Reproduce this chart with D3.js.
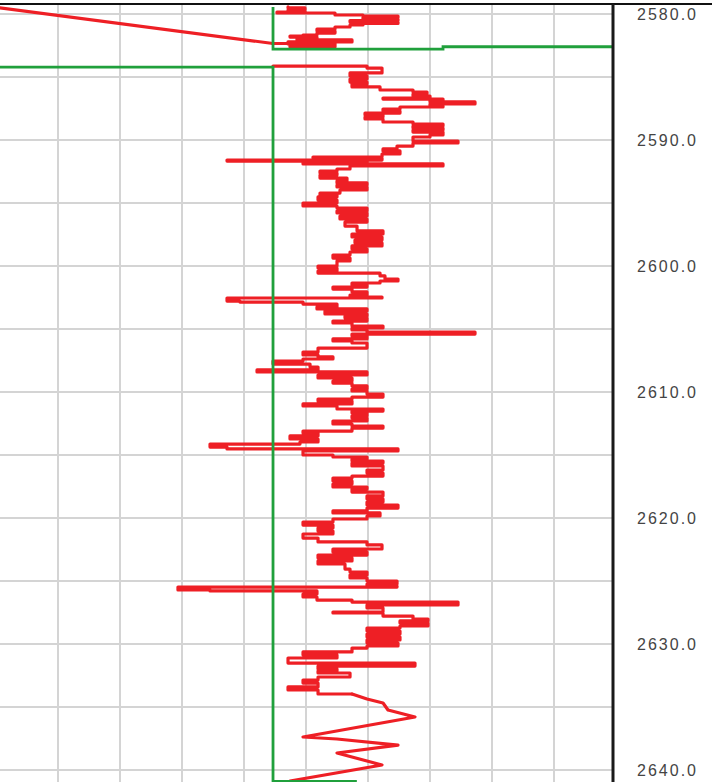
<!DOCTYPE html>
<html>
<head>
<meta charset="utf-8">
<script src="https://cdn.jsdelivr.net/npm/d3@7"></script>
<style>
  html, body { margin: 0; padding: 0; background: #ffffff; }
  svg { display: block; }
</style>
</head>
<body>
<svg id="chart" width="712" height="782"></svg>
<script>
// ---- data (log value, depth in m) ----
const depthLabels = [2580, 2590, 2600, 2610, 2620, 2630, 2640];

// off-scale diagonal trace at the very top
const redDiagonal = [[-10.6, 2578.8], [44.68, 2582.34]];

// first short red interval above the gap
const redTop = [
  [47.10, 2579.44], [49.84, 2579.52], [47.10, 2579.68], [49.84, 2579.76], [45.32, 2579.84],
  [54.68, 2579.92], [59.19, 2580.08], [64.84, 2580.16], [59.19, 2580.28], [64.84, 2580.40],
  [57.10, 2580.52], [64.84, 2580.63], [59.19, 2580.75], [57.10, 2580.87], [54.68, 2581.03],
  [51.77, 2581.19], [54.68, 2581.35], [51.77, 2581.51], [49.52, 2581.67], [47.42, 2581.75],
  [51.77, 2581.83], [48.55, 2581.98], [57.42, 2582.06], [47.10, 2582.22], [54.35, 2582.38],
  [47.42, 2582.46], [54.68, 2582.62], [44.68, 2582.34]
];

// main red log below the gap (sampled, drawn as steps)
const redMain = [
  [44.68, 2584.13], [59.84, 2584.13], [62.26, 2584.29], [62.26, 2584.60], [57.10, 2584.68],
  [59.84, 2584.92], [57.10, 2585.16], [59.84, 2585.40], [57.42, 2585.56], [61.94, 2585.79],
  [67.26, 2586.03], [69.52, 2586.19], [67.26, 2586.35], [70.00, 2586.51], [62.42, 2586.67],
  [72.10, 2586.75], [70.00, 2586.90], [77.26, 2586.98], [70.00, 2587.14], [72.10, 2587.30],
  [65.16, 2587.38], [62.42, 2587.54], [65.16, 2587.70], [59.52, 2587.86], [62.42, 2588.02],
  [59.52, 2588.17], [62.42, 2588.33], [67.26, 2588.57], [72.10, 2588.73], [67.26, 2588.89],
  [72.10, 2589.05], [67.26, 2589.21], [72.10, 2589.37], [70.00, 2589.60], [67.26, 2589.76],
  [74.52, 2590.08], [67.26, 2590.24], [64.68, 2590.48], [62.42, 2590.71], [65.16, 2590.87],
  [62.26, 2591.11], [51.13, 2591.35], [62.26, 2591.43], [37.26, 2591.59], [59.84, 2591.67],
  [49.52, 2591.83], [72.10, 2591.90], [57.10, 2592.06], [55.00, 2592.30], [52.26, 2592.46],
  [55.00, 2592.62], [52.26, 2592.78], [56.61, 2593.02], [55.00, 2593.25], [59.84, 2593.41],
  [55.00, 2593.57], [59.84, 2593.73], [55.48, 2593.97], [52.26, 2594.21], [55.00, 2594.37],
  [51.94, 2594.52], [55.00, 2594.76], [49.52, 2595.00], [55.00, 2595.24], [59.84, 2595.40],
  [55.00, 2595.63], [59.84, 2595.79], [55.48, 2596.03], [59.84, 2596.27], [56.29, 2596.51],
  [58.23, 2596.83], [62.42, 2597.22], [57.42, 2597.46], [62.26, 2597.70], [57.90, 2597.94],
  [62.26, 2598.17], [57.42, 2598.41], [59.84, 2598.65], [57.10, 2598.89], [54.35, 2599.13],
  [57.10, 2599.37], [55.00, 2599.60], [51.94, 2600.00], [55.00, 2600.16], [51.94, 2600.40],
  [61.94, 2600.56], [62.74, 2600.79], [64.84, 2601.03], [61.94, 2601.19], [57.42, 2601.35],
  [59.84, 2601.51], [54.35, 2601.67], [57.42, 2601.83], [59.84, 2602.06], [57.10, 2602.30],
  [62.26, 2602.46], [37.26, 2602.54], [39.35, 2602.78], [49.52, 2602.86], [55.00, 2603.02],
  [51.77, 2603.25], [59.84, 2603.41], [53.06, 2603.57], [59.84, 2603.81], [56.29, 2603.97],
  [59.84, 2604.13], [54.35, 2604.37], [57.42, 2604.52], [62.42, 2604.76], [57.42, 2604.92],
  [59.84, 2605.08], [77.26, 2605.24], [57.42, 2605.40], [59.84, 2605.56], [54.35, 2605.79],
  [57.42, 2605.95], [59.84, 2606.11], [51.94, 2606.51], [49.52, 2606.83], [51.94, 2607.06],
  [54.35, 2607.22], [49.52, 2607.38], [44.68, 2607.54], [50.65, 2607.78], [51.94, 2608.02],
  [42.10, 2608.25], [59.84, 2608.41], [51.94, 2608.65], [57.42, 2608.89], [54.35, 2609.13],
  [57.42, 2609.29], [59.84, 2609.52], [57.42, 2609.76], [59.84, 2609.92], [62.42, 2610.16],
  [57.42, 2610.40], [51.94, 2610.56], [57.42, 2610.71], [49.52, 2610.95], [55.00, 2611.11],
  [62.42, 2611.35], [57.42, 2611.51], [59.84, 2611.67], [57.42, 2611.90], [59.84, 2612.06],
  [54.35, 2612.30], [57.42, 2612.54], [62.42, 2612.70], [57.42, 2612.86], [49.52, 2613.10],
  [51.94, 2613.25], [47.42, 2613.49], [51.94, 2613.73], [49.03, 2613.97], [34.52, 2614.13],
  [37.26, 2614.37], [64.84, 2614.52], [49.52, 2614.68], [54.35, 2615.00], [59.84, 2615.16],
  [57.42, 2615.32], [62.42, 2615.48], [57.42, 2615.63], [62.42, 2615.87], [59.84, 2616.19],
  [62.42, 2616.43], [57.42, 2616.67], [54.35, 2616.83], [57.42, 2617.06], [54.35, 2617.30],
  [59.84, 2617.54], [57.42, 2617.70], [62.42, 2617.94], [59.84, 2618.25], [62.42, 2618.49],
  [59.84, 2618.73], [64.84, 2618.97], [59.84, 2619.21], [54.35, 2619.44], [61.94, 2619.60],
  [59.84, 2619.84], [54.35, 2620.08], [49.52, 2620.32], [54.35, 2620.56], [51.94, 2620.79],
  [54.35, 2621.03], [49.52, 2621.27], [51.94, 2621.59], [59.84, 2621.90], [62.26, 2622.14],
  [54.35, 2622.46], [59.84, 2622.70], [51.94, 2622.94], [57.42, 2623.17], [51.94, 2623.41],
  [56.29, 2623.65], [57.10, 2624.05], [59.84, 2624.29], [57.10, 2624.52], [59.84, 2624.76],
  [64.68, 2625.00], [59.84, 2625.24], [64.68, 2625.40], [29.35, 2625.48], [34.52, 2625.71],
  [51.77, 2625.79], [49.52, 2626.03], [51.77, 2626.27], [57.42, 2626.51], [74.52, 2626.67],
  [59.84, 2626.90], [62.42, 2627.14], [54.35, 2627.46], [62.42, 2627.54], [67.26, 2627.78],
  [69.68, 2628.02], [65.16, 2628.17], [69.68, 2628.33], [65.16, 2628.57], [59.84, 2628.73],
  [65.16, 2628.97], [59.84, 2629.21], [65.16, 2629.44], [59.84, 2629.68], [64.84, 2629.92],
  [59.84, 2630.16], [57.42, 2630.32], [49.52, 2630.63], [55.00, 2630.87], [47.10, 2631.11],
  [67.58, 2631.51], [51.94, 2631.75], [55.00, 2631.98], [51.94, 2632.14], [57.10, 2632.30],
  [51.94, 2632.62], [49.52, 2632.86], [51.94, 2633.10], [47.10, 2633.41], [51.94, 2633.65],
  [57.42, 2633.97]
];

// bottom tail of the red log (sparse samples, straight joins)
const redTail = [
  [57.42, 2633.97], [59.84, 2634.37], [62.42, 2634.68], [63.23, 2635.24], [67.58, 2635.79],
  [49.52, 2637.38], [55.00, 2637.54], [64.84, 2638.02], [55.00, 2638.65], [62.26, 2639.60],
  [47.42, 2640.87]
];

// green cutoff curve (two pieces around the gap)
const greenUpper = [[44.68, 2579.44], [44.68, 2582.78], [72.10, 2582.78], [72.10, 2582.60], [110, 2582.60]];
const greenLower = [[-10, 2584.21], [44.68, 2584.21], [44.68, 2640.90], [58.20, 2640.90]];

// ---- layout ----
const W = 712, H = 782;
const plotRight = 613, plotTop = 4;
const svg = d3.select("#chart");

const x = d3.scaleLinear().domain([0, 100]).range([-4, 616]);
const y = d3.scaleLinear().domain([2580, 2640]).range([14, 770]);

svg.append("rect").attr("width", W).attr("height", H).attr("fill", "#ffffff");

svg.append("defs").append("clipPath").attr("id", "plotClip")
  .append("rect").attr("x", 0).attr("y", plotTop + 1).attr("width", plotRight - 1).attr("height", H - plotTop);

// grid
const grid = svg.append("g");
grid.selectAll("line.v").data(x.ticks(10).filter(t => t > 0 && t < 100)).join("line")
  .attr("x1", d => x(d)).attr("x2", d => x(d))
  .attr("y1", plotTop).attr("y2", H)
  .attr("stroke", "#d4d4d4").attr("stroke-width", 2);
grid.selectAll("line.h").data(y.ticks(12)).join("line")
  .attr("x1", 0).attr("x2", plotRight)
  .attr("y1", d => y(d)).attr("y2", d => y(d))
  .attr("stroke", "#d4d4d4").attr("stroke-width", 2);

// curves
const stepLine = d3.line().x(d => x(d[0])).y(d => y(d[1])).curve(d3.curveStepBefore);
const straight = d3.line().x(d => x(d[0])).y(d => y(d[1]));
const curves = svg.append("g").attr("clip-path", "url(#plotClip)");
const redStyle = p => p.attr("fill", "none").attr("stroke", "#ee1f25").attr("stroke-width", 3.2)
  .attr("stroke-linejoin", "round").attr("stroke-linecap", "round");
curves.append("path").datum(redDiagonal).attr("d", straight).call(redStyle);
curves.append("path").datum(redTop).attr("d", stepLine).call(redStyle);
curves.append("path").datum(redMain).attr("d", stepLine).call(redStyle);
curves.append("path").datum(redTail).attr("d", straight).call(redStyle);
[greenUpper, greenLower].forEach(s => {
  curves.append("path").datum(s).attr("d", straight)
    .attr("fill", "none").attr("stroke", "#20a03c").attr("stroke-width", 2.8);
});

// frame
svg.append("line").attr("x1", 0).attr("x2", W).attr("y1", plotTop).attr("y2", plotTop)
  .attr("stroke", "#111").attr("stroke-width", 2);
svg.append("line").attr("x1", plotRight).attr("x2", plotRight).attr("y1", plotTop).attr("y2", H)
  .attr("stroke", "#1a1a1a").attr("stroke-width", 3);

// depth labels
const axis = svg.append("g").attr("transform", `translate(${plotRight},0)`)
  .call(d3.axisRight(y).tickValues(depthLabels).tickFormat(d3.format(".1f")).tickSize(0).tickPadding(24));
axis.select(".domain").remove();
axis.selectAll("text")
  .attr("font-family", "'Liberation Sans', Arial, sans-serif")
  .attr("font-size", 16)
  .attr("fill", "#444444")
  .attr("textLength", 59)
  .attr("lengthAdjust", "spacing");
</script>
</body>
</html>
